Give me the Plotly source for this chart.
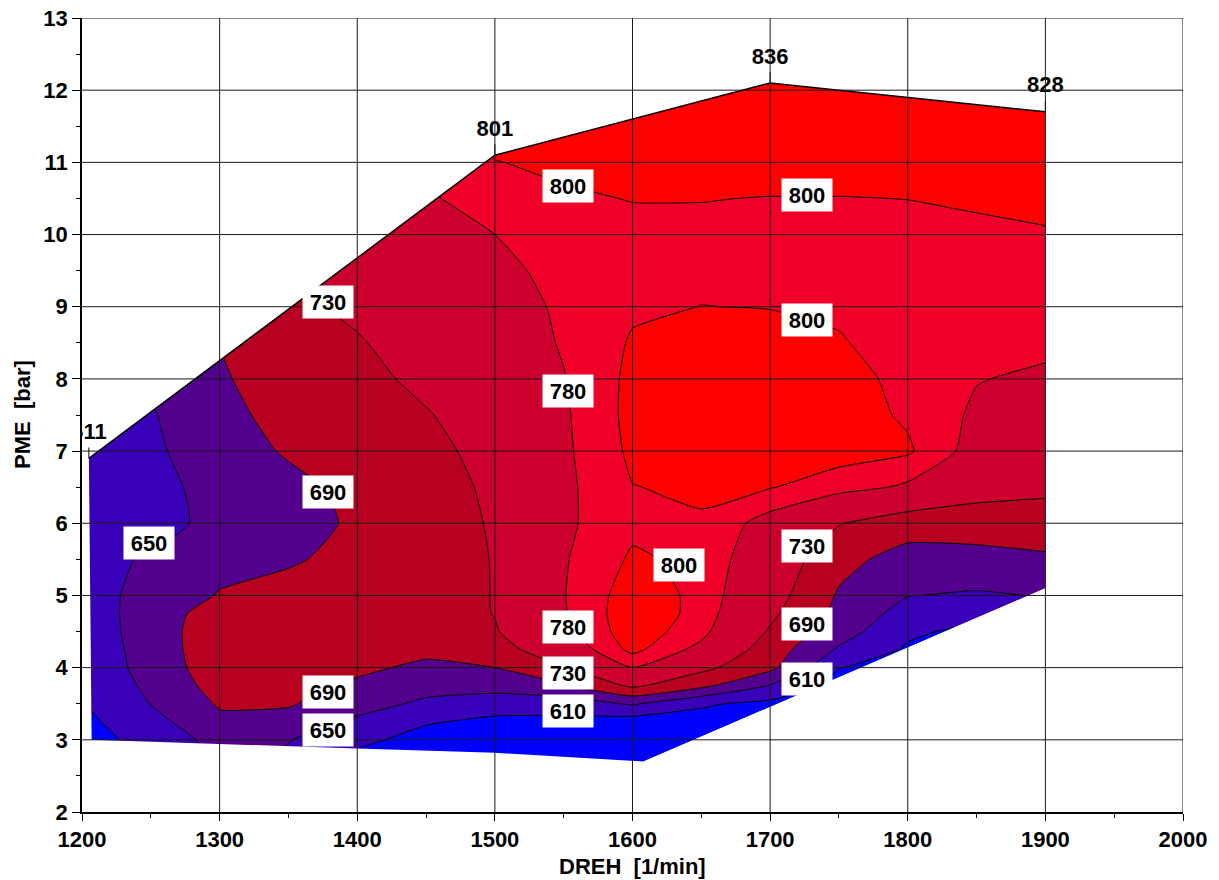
import plotly.graph_objects as go

# Grid of the engine map: speed columns (1/min) and load rows (bar)
DREH = [1200, 1250, 1300, 1350, 1400, 1450, 1500, 1550, 1600, 1650, 1700, 1750, 1800, 1850, 1900]
PME = [2.5, 2.75, 3.0, 3.25, 3.5, 3.75, 4.0, 4.25, 4.5, 4.75, 5.0, 5.5, 6.0, 6.5,
       7.0, 7.5, 8.0, 8.5, 9.0, 9.5, 10.0, 10.5, 11.0, 11.5, 12.0, 12.5]

# Map values along each speed line, one entry per PME row (bottom to top)
n1200 = [585, 590, 595, 600, 608, 614, 618, 621, 624, 626, 627, 628, 626, 618, 609, 612, 618, 624, 630, 636, 642, 648, 654, 660, 666, 672]
n1250 = [600, 611, 622, 636, 651, 659, 666, 668, 670, 670, 668, 657, 622, 632, 643, 647, 652, 658, 664, 670, 676, 682, 688, 694, 700, 706]
n1300 = [655, 660, 665, 682, 694, 705, 712, 715, 714, 708, 692, 680, 672, 670, 672, 678, 685, 691, 697, 703, 709, 715, 721, 727, 733, 739]
n1350 = [630, 643, 652, 675, 694, 705, 712, 716, 716, 712, 705, 685, 674, 680, 694, 704, 712, 720, 722, 728, 734, 740, 746, 752, 758, 764]
n1400 = [585, 602, 618, 643, 665, 684, 697, 705, 710, 712, 712, 703, 696, 700, 710, 716, 721, 727, 737, 745, 752, 760, 767, 774, 780, 786]
n1450 = [570, 585, 598, 613, 643, 663, 683, 698, 708, 714, 717, 719, 720, 723, 725, 728, 737, 747, 757, 765, 772, 778, 784, 790, 795, 800]
n1500 = [560, 578, 592, 603, 625, 668, 690, 712, 727, 731, 731, 731, 732, 733, 736, 745, 757, 765, 768, 773, 780, 787, 799.5, 806, 812, 818]
n1550 = [560, 575, 588, 600, 628, 686, 727, 760, 774, 778, 779, 778, 776, 775, 776, 777, 779, 782, 784, 788, 794, 798, 803, 808, 814, 820]
n1600 = [560, 570, 580, 590, 655, 737, 780, 806, 812, 813, 811, 803, 795, 799.5, 804, 806, 805, 802, 797, 795, 796, 800.5, 806, 812, 818, 824]
n1650 = [575, 582, 588, 595, 615, 700, 740, 772, 788, 794, 795, 795, 798, 803, 806, 807, 807, 805, 800.2, 796, 796, 800.5, 808, 816, 824, 832]
n1700 = [570, 578, 585, 592, 600, 648, 700, 711, 726, 738, 748, 760, 770, 801, 808, 810, 810, 806, 799.5, 796, 796, 799.5, 808, 818, 834, 842]
n1750 = [565, 572, 578, 584, 590, 595, 611, 645, 668, 680, 686, 702, 732, 790, 808, 810, 808, 801.5, 797, 795, 796, 799.5, 808, 817, 826, 834]
n1800 = [550, 560, 570, 578, 585, 592, 598, 605, 617, 634, 651, 675, 708, 776, 803, 797, 794, 792, 791, 792, 795, 800.2, 808, 816, 825, 833]
n1850 = [560, 568, 575, 582, 588, 593, 596, 598, 600, 628, 646, 675, 712, 744, 770, 776, 781, 786, 790, 794, 797, 802, 810, 818, 826, 834]
n1900 = [565, 575, 585, 595, 603, 612, 620, 627, 633, 640, 652, 684, 712, 738, 754, 766, 776, 785, 790, 794, 798, 806, 815, 824, 832, 838]

COLUMNS = [n1200, n1250, n1300, n1350, n1400, n1450, n1500, n1550,
           n1600, n1650, n1700, n1750, n1800, n1850, n1900]
Z = [list(row) for row in zip(*COLUMNS)]

# Contour levels and the fill of the band above each level
LEVELS = [610, 650, 690, 730, 780, 800]
BAND_COLORS = ["rgb(56,0,184)", "rgb(84,0,142)", "rgb(184,0,32)",
               "rgb(205,0,45)", "rgb(240,0,40)", "rgb(255,0,0)"]
BASE_COLOR = "rgb(0,0,255)"

# Full-load curve with its values, and the lower limit of the measured range
FL_DREH = [1205, 1500, 1700, 1900]
FL_PME = [6.9, 11.1, 12.1, 11.7]
FL_VALUE = [611, 801, 836, 828]
LOW_DREH = [1900, 1608, 1500, 1400, 1207]
LOW_PME = [5.1, 2.70, 2.82, 2.88, 3.0]

# Contour labels
LABEL_DREH = [1553, 1726.5, 1726.5, 1379, 1553, 1379, 1248.5, 1634,
              1726.5, 1553, 1726.5, 1553, 1379, 1726.5, 1553, 1379]
LABEL_PME = [10.67, 10.55, 8.82, 9.07, 7.83, 6.44, 5.72, 5.42,
             5.68, 4.56, 4.60, 3.93, 3.66, 3.84, 3.40, 3.13]
LABEL_LEVEL = [800, 800, 800, 730, 780, 690, 650, 800,
               730, 780, 690, 730, 690, 610, 610, 650]

FONT = "Liberation Sans, Arial, sans-serif"

fig = go.Figure()

# Filled bands: each constraint trace shades the region above its level
for lvl, col in zip(LEVELS, BAND_COLORS):
    fig.add_trace(go.Contour(
        x=DREH, y=PME, z=Z,
        contours=dict(type="constraint", operation="<", value=lvl),
        fillcolor=col,
        line=dict(color="black", width=1, smoothing=0.5),
        showscale=False, showlegend=False, hoverinfo="skip",
    ))

# White masks outside the measured envelope
x_lo, x_hi, y_lo, y_hi = 1100, 2100, 1, 14
masks = [
    # above the full-load curve
    (FL_DREH + [x_hi, x_hi, x_lo, x_lo],
     FL_PME + [FL_PME[-1], y_hi, y_hi, FL_PME[0]]),
    # left of the lowest speed
    ([x_lo, LOW_DREH[-1], LOW_DREH[-1], FL_DREH[0], FL_DREH[0], x_lo],
     [y_lo, y_lo, LOW_PME[-1], FL_PME[0], y_hi, y_hi]),
    # right of the highest speed
    ([LOW_DREH[0], LOW_DREH[0], x_hi, x_hi, LOW_DREH[1], LOW_DREH[1]],
     [LOW_PME[0], y_hi, y_hi, y_lo, y_lo, LOW_PME[1]]),
    # below the lower limit
    ([x_lo] + LOW_DREH[::-1] + [x_hi, x_hi, x_lo],
     [LOW_PME[-1]] + LOW_PME[::-1] + [LOW_PME[0], y_lo, y_lo]),
]
for mx, my in masks:
    fig.add_trace(go.Scatter(
        x=mx, y=my, mode="lines", fill="toself", fillcolor="white",
        line=dict(width=0, color="white"), showlegend=False, hoverinfo="skip",
    ))

# Full-load curve
fig.add_trace(go.Scatter(
    x=FL_DREH, y=FL_PME, mode="lines",
    line=dict(color="black", width=1.5), showlegend=False, hoverinfo="skip",
))

# Leader ticks and values at the full-load points
lead_x, lead_y = [], []
for dx, py in zip(FL_DREH, FL_PME):
    lead_x += [dx, dx, None]
    lead_y += [py, py + 0.15, None]
fig.add_trace(go.Scatter(
    x=lead_x, y=lead_y, mode="lines",
    line=dict(color="black", width=1), showlegend=False, hoverinfo="skip",
))
fig.add_trace(go.Scatter(
    x=FL_DREH, y=[p + 0.345 for p in FL_PME], mode="text",
    text=[str(v) for v in FL_VALUE], textposition="middle center",
    textfont=dict(family=FONT, size=22, color="black", weight="bold"),
    cliponaxis=True, showlegend=False, hoverinfo="skip",
))

# Grid drawn over the filled map
shapes = []
for gx in range(1300, 2001, 100):
    shapes.append(dict(type="line", xref="x", yref="y", x0=gx, x1=gx, y0=2, y1=13,
                       line=dict(color="#1a1a1a", width=1), layer="above"))
for gy in range(3, 14):
    shapes.append(dict(type="line", xref="x", yref="y", x0=1200, x1=2000, y0=gy, y1=gy,
                       line=dict(color="#1a1a1a", width=1), layer="above"))

annotations = []
for lx, ly, lv in zip(LABEL_DREH, LABEL_PME, LABEL_LEVEL):
    annotations.append(dict(
        x=lx, y=ly, xref="x", yref="y", text=str(lv), showarrow=False,
        bgcolor="white", width=50, height=32, borderpad=0,
        font=dict(family=FONT, size=22, color="black", weight="bold"),
    ))

# Axis titles
annotations.append(dict(
    x=1600, y=0, xref="x", yref="paper", yshift=-54, yanchor="middle",
    text="DREH\u00a0 [1/min]", showarrow=False,
    font=dict(family=FONT, size=22, color="black", weight="bold"),
))
annotations.append(dict(
    x=0, y=0.5, xref="paper", yref="paper", xshift=-60, xanchor="center",
    text="PME\u00a0 [bar]", textangle=-90, showarrow=False,
    font=dict(family=FONT, size=22, color="black", weight="bold"),
))

tickfont = dict(family=FONT, size=22, color="black", weight="bold")
fig.update_layout(
    width=1219, height=880,
    margin=dict(l=82, r=36, t=18, b=68, autoexpand=False),
    paper_bgcolor="white", plot_bgcolor=BASE_COLOR,
    shapes=shapes, annotations=annotations, showlegend=False,
)
fig.update_xaxes(
    range=[1200, 2000], tickvals=list(range(1200, 2001, 100)),
    ticks="outside", ticklen=7, tickwidth=1, tickcolor="black",
    showgrid=False, zeroline=False, showline=True, linecolor="black", linewidth=1.5,
    tickfont=tickfont, layer="above traces", automargin=False,
    minor=dict(dtick=50, ticks="outside", ticklen=4, tickcolor="black", showgrid=False),
)
fig.update_yaxes(
    range=[2, 13], tickvals=list(range(2, 14)),
    ticks="outside", ticklen=8, tickwidth=1, tickcolor="black",
    showgrid=False, zeroline=False, showline=True, linecolor="black", linewidth=1.5,
    tickfont=tickfont, layer="above traces", automargin=False,
    minor=dict(dtick=0.5, ticks="outside", ticklen=4, tickcolor="black", showgrid=False),
)

fig.write_html("out.html")
